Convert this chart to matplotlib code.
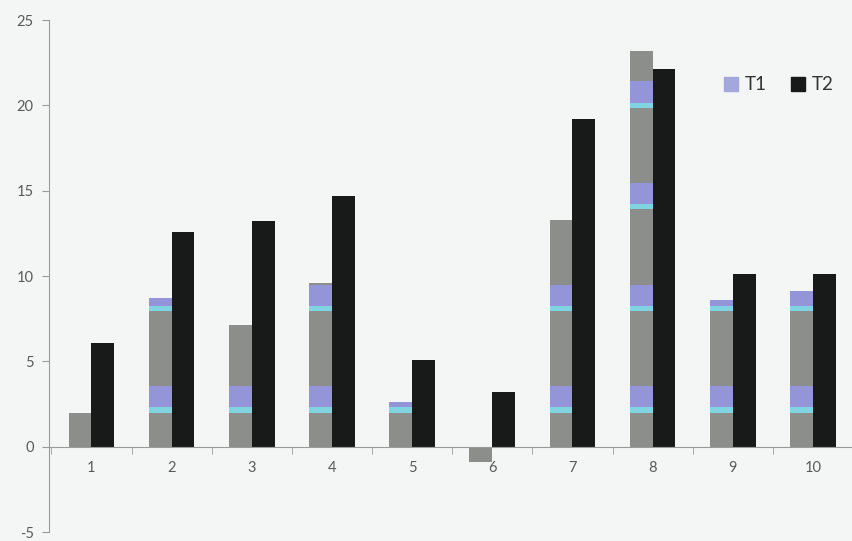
import numpy as np
import matplotlib
matplotlib.use("Agg")
import matplotlib.pyplot as plt
from matplotlib.patches import Patch

# valores por toma
categorias = ["1", "2", "3", "4", "5", "6", "7", "8", "9", "10"]
t1 = [2.0, 8.7, 7.1, 9.6, 2.6, -0.9, 13.3, 23.2, 8.6, 9.1]
t2 = [6.1, 12.6, 13.2, 14.7, 5.1, 3.2, 19.2, 22.1, 10.1, 10.1]
yticks = [-5, 0, 5, 10, 15, 20, 25]

plt.rcParams['font.family'] = ['Lato', 'DejaVu Sans']
plt.rcParams['axes.unicode_minus'] = False

fondo = "#f4f6f5"
gris_t1 = "#8c8e8c"
morado = "#9494d8"
cian = "#80d4e2"
negro = "#171a19"

fig = plt.figure(figsize=(8.53, 5.41), dpi=100, facecolor=fondo)
ax = fig.add_axes([49/853, 9/541, 1 - 49/853, 512/541])
ax.set_facecolor(fondo)

x = np.arange(1, len(categorias) + 1)
ancho = 0.285
barras1 = ax.bar(x - ancho/2, t1, ancho, color=gris_t1, zorder=2)
barras2 = ax.bar(x + ancho/2, t2, ancho, color=negro, zorder=2)

# franjas del relleno de T1 (cian abajo, morado encima)
franjas = [(2.0, 2.3, 3.55), (7.95, 8.25, 9.5), (13.9, 14.2, 15.45), (19.85, 20.15, 21.4)]
for b in barras1:
    for y0, y1, y2 in franjas:
        s1 = ax.axhspan(y0, y1, color=cian, lw=0, zorder=3)
        s1.set_clip_path(b)
        s2 = ax.axhspan(y1, y2, color=morado, lw=0, zorder=3)
        s2.set_clip_path(b)

ax.set_xlim(0.47, 10.42)
ax.set_ylim(-5, 25)

for s in ["top", "right"]:
    ax.spines[s].set_visible(False)
ax.spines["left"].set_color("#9a9a9a")
ax.spines["bottom"].set_color("#9a9a9a")
ax.spines["bottom"].set_position(("data", 0))
ax.spines["left"].set_linewidth(0.8)
ax.spines["bottom"].set_linewidth(0.8)

ax.set_yticks(yticks)
ax.tick_params(axis="y", direction="out", length=5, color="#9a9a9a",
               labelsize=10.5, labelcolor="#5a5a5a", pad=6)
ax.set_xticks(x)
ax.set_xticklabels(categorias)
ax.set_xticks(np.arange(0.5, 11, 1), minor=True)
ax.tick_params(axis="x", which="major", length=0, labelsize=10.5,
               labelcolor="#5a5a5a", pad=10)
ax.tick_params(axis="x", which="minor", direction="out", length=5, color="#9a9a9a")

manijas = [Patch(color="#a3a7dc", label="T1"), Patch(color=negro, label="T2")]
fig.legend(handles=manijas, loc="upper right", bbox_to_anchor=(0.997, 0.89),
           ncol=2, frameon=False, fontsize=13.5, handlelength=0.75, handleheight=0.75,
           handletextpad=0.35, columnspacing=1.3, labelcolor="#333333")

fig.savefig("out.png", dpi=100, facecolor=fondo)
